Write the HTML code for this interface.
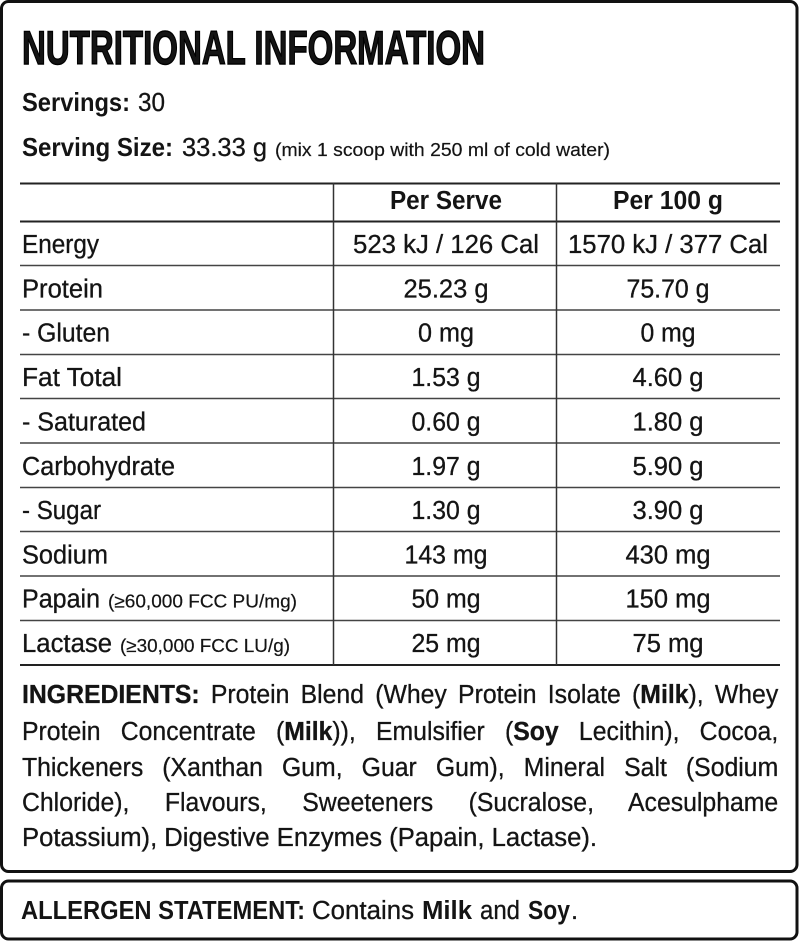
<!DOCTYPE html>
<html>
<head>
<meta charset="utf-8">
<style>
  html, body { margin:0; padding:0; background:#fff; }
  body { width:800px; height:941px; position:relative; overflow:hidden; }
  svg { position:absolute; left:0; top:0; }
  .ing { position:absolute; left:22px; width:778px; font-family:"Liberation Sans", Arial, sans-serif;
         font-size:25.5px; line-height:25px; color:#141414; white-space:nowrap;
         text-align:justify; text-align-last:justify; transform:scaleX(0.972); transform-origin:0 0;
         -webkit-text-stroke:0.3px #141414; }
  .ing b { font-weight:bold; }
</style>
</head>
<body>
<svg width="800" height="941" viewBox="0 0 800 941" xmlns="http://www.w3.org/2000/svg">
  <rect x="1.5" y="1.5" width="795.5" height="870" rx="7" ry="7" fill="#fff" stroke="#111" stroke-width="3"/>
  <rect x="1.5" y="881" width="795.5" height="58" rx="7" ry="7" fill="#fff" stroke="#111" stroke-width="3"/>

  <g font-family="Liberation Sans, Arial, sans-serif" fill="#141414">
    <text x="22" y="64" font-size="47.5" font-weight="bold" stroke="#000" stroke-width="1.4" textLength="463" lengthAdjust="spacingAndGlyphs">NUTRITIONAL INFORMATION</text>

    <text x="22" y="111" font-size="26" font-weight="bold" textLength="108" lengthAdjust="spacingAndGlyphs">Servings:</text>
    <text x="138" y="111" font-size="26" stroke="#141414" stroke-width="0.3" textLength="27" lengthAdjust="spacingAndGlyphs">30</text>

    <text x="22" y="156" font-size="26" font-weight="bold" textLength="151" lengthAdjust="spacingAndGlyphs">Serving Size:</text>
    <text x="182" y="156" font-size="26" stroke="#141414" stroke-width="0.3" textLength="85" lengthAdjust="spacingAndGlyphs">33.33 g</text>
    <text x="275" y="156" font-size="18.5" stroke="#141414" stroke-width="0.2" textLength="335" lengthAdjust="spacingAndGlyphs">(mix 1 scoop with 250 ml of cold water)</text>
  </g>

  <!-- table lines -->
  <g stroke="#222" fill="none">
    <line x1="20" y1="183.5" x2="780" y2="183.5" stroke-width="2"/>
    <line x1="20" y1="221.5" x2="780" y2="221.5" stroke-width="2"/>
    <line x1="20" y1="265.5" x2="780" y2="265.5" stroke-width="1.5" stroke="#444"/>
    <line x1="20" y1="310" x2="780" y2="310" stroke-width="1.5" stroke="#444"/>
    <line x1="20" y1="354.5" x2="780" y2="354.5" stroke-width="1.5" stroke="#444"/>
    <line x1="20" y1="398.5" x2="780" y2="398.5" stroke-width="1.5" stroke="#444"/>
    <line x1="20" y1="443" x2="780" y2="443" stroke-width="1.5" stroke="#444"/>
    <line x1="20" y1="487.5" x2="780" y2="487.5" stroke-width="1.5" stroke="#444"/>
    <line x1="20" y1="531.5" x2="780" y2="531.5" stroke-width="1.5" stroke="#444"/>
    <line x1="20" y1="576" x2="780" y2="576" stroke-width="1.5" stroke="#444"/>
    <line x1="20" y1="620.5" x2="780" y2="620.5" stroke-width="1.5" stroke="#444"/>
    <line x1="20" y1="665" x2="780" y2="665" stroke-width="2"/>
    <line x1="333.5" y1="183" x2="333.5" y2="665" stroke-width="1.5" stroke="#333"/>
    <line x1="556.5" y1="183" x2="556.5" y2="665" stroke-width="1.5" stroke="#333"/>
  </g>

  <g font-family="Liberation Sans, Arial, sans-serif" fill="#141414" font-size="25.5">
    <!-- header -->
    <text x="446" y="209" text-anchor="middle" font-weight="bold" textLength="112" lengthAdjust="spacingAndGlyphs">Per Serve</text>
    <text x="668" y="209" text-anchor="middle" font-weight="bold" textLength="110" lengthAdjust="spacingAndGlyphs">Per 100 g</text>
  </g>

  <g font-family="Liberation Sans, Arial, sans-serif" fill="#141414" font-size="25.5" stroke="#141414" stroke-width="0.3">
    <!-- labels -->
    <text x="22" y="253" textLength="77" lengthAdjust="spacingAndGlyphs">Energy</text>
    <text x="22" y="297.5" textLength="81" lengthAdjust="spacingAndGlyphs">Protein</text>
    <text x="22" y="341.5" textLength="88" lengthAdjust="spacingAndGlyphs">- Gluten</text>
    <text x="22" y="386" textLength="100" lengthAdjust="spacingAndGlyphs">Fat Total</text>
    <text x="22" y="430.5" textLength="124" lengthAdjust="spacingAndGlyphs">- Saturated</text>
    <text x="22" y="475" textLength="153" lengthAdjust="spacingAndGlyphs">Carbohydrate</text>
    <text x="22" y="519" textLength="79" lengthAdjust="spacingAndGlyphs">- Sugar</text>
    <text x="22" y="563.5" textLength="86" lengthAdjust="spacingAndGlyphs">Sodium</text>
    <text x="22" y="607.5" textLength="78" lengthAdjust="spacingAndGlyphs">Papain</text>
    <text x="108" y="607.5" font-size="18.5" stroke-width="0.2" textLength="189" lengthAdjust="spacingAndGlyphs">(≥60,000 FCC PU/mg)</text>
    <text x="22" y="652" textLength="90" lengthAdjust="spacingAndGlyphs">Lactase</text>
    <text x="120" y="652" font-size="18.5" stroke-width="0.2" textLength="170" lengthAdjust="spacingAndGlyphs">(≥30,000 FCC LU/g)</text>

    <!-- per serve -->
    <text x="446" y="253" text-anchor="middle" textLength="186" lengthAdjust="spacingAndGlyphs">523 kJ / 126 Cal</text>
    <text x="446" y="297.5" text-anchor="middle" textLength="85" lengthAdjust="spacingAndGlyphs">25.23 g</text>
    <text x="446" y="341.5" text-anchor="middle" textLength="56" lengthAdjust="spacingAndGlyphs">0 mg</text>
    <text x="446" y="386" text-anchor="middle" textLength="69" lengthAdjust="spacingAndGlyphs">1.53 g</text>
    <text x="446" y="430.5" text-anchor="middle" textLength="69" lengthAdjust="spacingAndGlyphs">0.60 g</text>
    <text x="446" y="475" text-anchor="middle" textLength="69" lengthAdjust="spacingAndGlyphs">1.97 g</text>
    <text x="446" y="519" text-anchor="middle" textLength="69" lengthAdjust="spacingAndGlyphs">1.30 g</text>
    <text x="446" y="563.5" text-anchor="middle" textLength="83" lengthAdjust="spacingAndGlyphs">143 mg</text>
    <text x="446" y="607.5" text-anchor="middle" textLength="69" lengthAdjust="spacingAndGlyphs">50 mg</text>
    <text x="446" y="652" text-anchor="middle" textLength="69" lengthAdjust="spacingAndGlyphs">25 mg</text>

    <!-- per 100 g -->
    <text x="668" y="253" text-anchor="middle" textLength="200" lengthAdjust="spacingAndGlyphs">1570 kJ / 377 Cal</text>
    <text x="668" y="297.5" text-anchor="middle" textLength="83" lengthAdjust="spacingAndGlyphs">75.70 g</text>
    <text x="668" y="341.5" text-anchor="middle" textLength="55" lengthAdjust="spacingAndGlyphs">0 mg</text>
    <text x="668" y="386" text-anchor="middle" textLength="71" lengthAdjust="spacingAndGlyphs">4.60 g</text>
    <text x="668" y="430.5" text-anchor="middle" textLength="71" lengthAdjust="spacingAndGlyphs">1.80 g</text>
    <text x="668" y="475" text-anchor="middle" textLength="71" lengthAdjust="spacingAndGlyphs">5.90 g</text>
    <text x="668" y="519" text-anchor="middle" textLength="71" lengthAdjust="spacingAndGlyphs">3.90 g</text>
    <text x="668" y="563.5" text-anchor="middle" textLength="85" lengthAdjust="spacingAndGlyphs">430 mg</text>
    <text x="668" y="607.5" text-anchor="middle" textLength="85" lengthAdjust="spacingAndGlyphs">150 mg</text>
    <text x="668" y="652" text-anchor="middle" textLength="71" lengthAdjust="spacingAndGlyphs">75 mg</text>

    <!-- last ingredients line -->
    <text x="22" y="846" font-size="25.5" textLength="575" lengthAdjust="spacingAndGlyphs">Potassium), Digestive Enzymes (Papain, Lactase).</text>

    <!-- allergen -->
    <text x="312" y="919" textLength="102" lengthAdjust="spacingAndGlyphs">Contains</text>
    <text x="480" y="919" textLength="40" lengthAdjust="spacingAndGlyphs">and</text>
    <text x="571" y="919">.</text>
  </g>
  <g font-family="Liberation Sans, Arial, sans-serif" fill="#141414" font-size="25.5" font-weight="bold">
    <text x="21" y="919" textLength="284" lengthAdjust="spacingAndGlyphs">ALLERGEN STATEMENT:</text>
    <text x="422" y="919" textLength="50" lengthAdjust="spacingAndGlyphs">Milk</text>
    <text x="528" y="919" textLength="42" lengthAdjust="spacingAndGlyphs">Soy</text>
  </g>
</svg>

<div class="ing" style="top:683px;"><b>INGREDIENTS:</b> Protein Blend (Whey Protein Isolate (<b>Milk</b>), Whey</div>
<div class="ing" style="top:720px;">Protein Concentrate (<b>Milk</b>)), Emulsifier (<b>Soy</b> Lecithin), Cocoa,</div>
<div class="ing" style="top:756px;">Thickeners (Xanthan Gum, Guar Gum), Mineral Salt (Sodium</div>
<div class="ing" style="top:791px;">Chloride), Flavours, Sweeteners (Sucralose, Acesulphame</div>
</body>
</html>
